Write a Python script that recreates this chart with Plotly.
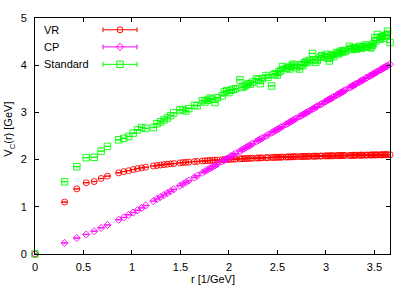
import plotly.graph_objects as go

# lattice distances r [1/GeV]
r = [0.0, 0.305, 0.431, 0.528, 0.610, 0.682, 0.747, 0.863, 0.915, 0.965,
     1.012, 1.057, 1.100, 1.141, 1.220, 1.258, 1.294, 1.330, 1.364, 1.398,
     1.431, 1.494, 1.525, 1.555, 1.585, 1.643, 1.671, 1.725, 1.752, 1.778,
     1.804, 1.830, 1.855, 1.880, 1.929, 1.953, 1.977, 2.000, 2.023, 2.046,
     2.069, 2.113, 2.135, 2.157, 2.178, 2.199, 2.220, 2.241, 2.282, 2.303,
     2.323, 2.343, 2.382, 2.402, 2.440, 2.459, 2.478, 2.497, 2.515, 2.534,
     2.552, 2.588, 2.606, 2.624, 2.641, 2.659, 2.676, 2.694, 2.728, 2.745,
     2.762, 2.779, 2.795, 2.812, 2.829, 2.861, 2.877, 2.894, 2.910, 2.941,
     2.957, 2.988, 3.004, 3.019, 3.035, 3.050, 3.065, 3.080, 3.110, 3.125,
     3.140, 3.155, 3.170, 3.184, 3.199, 3.242, 3.257, 3.271, 3.285, 3.299,
     3.313, 3.341, 3.355, 3.369, 3.383, 3.410, 3.424, 3.451, 3.464, 3.478,
     3.491, 3.504, 3.517, 3.531, 3.557, 3.570, 3.583, 3.596, 3.609, 3.622,
     3.635, 3.660]

vr = [0.0, 1.10, 1.38, 1.51, 1.535, 1.60, 1.65, 1.72, 1.745, 1.765,
      1.79, 1.81, 1.825, 1.839, 1.864, 1.875, 1.885, 1.894, 1.902, 1.910,
      1.917, 1.931, 1.936, 1.942, 1.947, 1.957, 1.962, 1.970, 1.974, 1.978,
      1.981, 1.985, 1.988, 1.991, 1.997, 2.000, 2.002, 2.005, 2.008, 2.010,
      2.012, 2.017, 2.019, 2.021, 2.023, 2.025, 2.027, 2.029, 2.032, 2.034,
      2.036, 2.037, 2.040, 2.042, 2.045, 2.046, 2.047, 2.049, 2.050, 2.051,
      2.053, 2.055, 2.056, 2.057, 2.058, 2.060, 2.061, 2.062, 2.064, 2.065,
      2.066, 2.067, 2.068, 2.069, 2.069, 2.071, 2.072, 2.073, 2.074, 2.075,
      2.076, 2.078, 2.079, 2.079, 2.080, 2.081, 2.081, 2.082, 2.084, 2.084,
      2.085, 2.086, 2.086, 2.087, 2.087, 2.089, 2.090, 2.090, 2.091, 2.092,
      2.092, 2.093, 2.094, 2.094, 2.095, 2.096, 2.096, 2.097, 2.098, 2.098,
      2.099, 2.099, 2.100, 2.100, 2.101, 2.102, 2.102, 2.103, 2.103, 2.104,
      2.104, 2.105]

cp = [0.0, 0.235, 0.338, 0.415, 0.483, 0.554, 0.616, 0.726, 0.774, 0.830,
      0.878, 0.927, 0.977, 1.027, 1.120, 1.165, 1.208, 1.250, 1.291, 1.331,
      1.371, 1.446, 1.483, 1.519, 1.554, 1.622, 1.656, 1.721, 1.753, 1.784,
      1.815, 1.845, 1.875, 1.905, 1.963, 1.991, 2.019, 2.047, 2.074, 2.102,
      2.129, 2.181, 2.207, 2.233, 2.259, 2.284, 2.309, 2.334, 2.383, 2.407,
      2.431, 2.454, 2.501, 2.524, 2.570, 2.592, 2.615, 2.637, 2.659, 2.681,
      2.703, 2.746, 2.767, 2.788, 2.809, 2.830, 2.851, 2.871, 2.912, 2.932,
      2.952, 2.972, 2.992, 3.012, 3.031, 3.070, 3.089, 3.109, 3.128, 3.165,
      3.184, 3.221, 3.240, 3.258, 3.276, 3.294, 3.313, 3.330, 3.366, 3.384,
      3.402, 3.419, 3.437, 3.454, 3.471, 3.523, 3.540, 3.557, 3.574, 3.590,
      3.607, 3.640, 3.657, 3.673, 3.690, 3.722, 3.738, 3.770, 3.786, 3.802,
      3.818, 3.834, 3.850, 3.865, 3.897, 3.912, 3.928, 3.943, 3.958, 3.974,
      3.989, 4.019]

std = [0.0, 1.53, 1.85, 2.04, 2.05, 2.18, 2.28, 2.42, 2.45, 2.49,
       2.56, 2.63, 2.68, 2.66, 2.68, 2.76, 2.80, 2.84, 2.88, 2.93,
       2.99, 3.05, 3.06, 3.03, 3.08, 3.15, 3.14, 3.25, 3.22, 3.26,
       3.30, 3.28, 3.21, 3.31, 3.35, 3.44, 3.46, 3.42, 3.47, 3.49,
       3.50, 3.69, 3.53, 3.55, 3.58, 3.61, 3.60, 3.64, 3.71, 3.69,
       3.61, 3.72, 3.78, 3.74, 3.56, 3.80, 3.82, 3.79, 3.86, 3.88,
       3.97, 3.93, 3.95, 3.92, 3.98, 4.02, 4.00, 3.95, 3.92, 4.01,
       3.99, 4.05, 4.08, 4.06, 4.10, 4.25, 4.12, 4.06, 4.10, 4.17,
       4.20, 4.18, 4.23, 4.15, 4.09, 4.20, 4.22, 4.18, 4.27, 4.24,
       4.26, 4.30, 4.28, 4.31, 4.29, 4.40, 4.35, 4.33, 4.37, 4.36,
       4.34, 4.40, 4.38, 4.36, 4.39, 4.43, 4.40, 4.38, 4.37, 4.42,
       4.46, 4.58, 4.52, 4.65, 4.55, 4.60, 4.61, 4.57, 4.63, 4.63,
       4.72, 4.48]

series_names = ["VR", "CP", "Standard"]
series_values = [vr, cp, std]
colors = ["#ff0000", "#ff00ff", "#00ff00"]
symbols = ["circle-open", "diamond-open", "square-open"]
sizes = [6, 5.5, 6.5]
x_ticks = [0, 0.5, 1, 1.5, 2, 2.5, 3, 3.5]
y_ticks = [0, 1, 2, 3, 4, 5]

FONT = "Liberation Sans, Arial, Helvetica, sans-serif"
W, H = 411, 288
L, R, T, B = 35, 21, 13, 34
pw, ph = W - L - R, H - T - B

def px(xp):
    return (xp - L) / pw

def py(yp):
    return (H - B - yp) / ph

fig = go.Figure()
for name, vals, c, s, sz in zip(series_names, series_values, colors, symbols, sizes):
    fig.add_trace(go.Scatter(
        x=r, y=vals, mode="markers", name=name, showlegend=False, cliponaxis=False,
        marker=dict(symbol=s, size=sz, color=c, line=dict(color=c, width=0.9)),
        error_y=dict(type="constant", value=0.004, color=c, thickness=0.9, width=3),
    ))

# custom gnuplot-like key
shapes = []
annotations = []
key_y = [25, 42.5, 60.3]
for name, c, s, sz, yk in zip(series_names, colors, symbols, sizes, key_y):
    yy = py(yk)
    x0, x1 = px(103), px(137)
    shapes.append(dict(type="line", xref="paper", yref="paper", x0=x0, x1=x1, y0=yy, y1=yy,
                       line=dict(color=c, width=1)))
    for xe in (x0, x1):
        shapes.append(dict(type="line", xref="paper", yref="paper", x0=xe, x1=xe,
                           y0=yy - 2.5 / ph, y1=yy + 2.5 / ph, line=dict(color=c, width=1)))
    fig.add_trace(go.Scatter(
        x=[px(120)], y=[yy], mode="markers", xaxis="x2", yaxis="y2", showlegend=False,
        marker=dict(symbol=s, size=sz, color=c, line=dict(color=c, width=1)),
        hoverinfo="skip"))
    annotations.append(dict(text=name, xref="paper", yref="paper", x=px(42), y=yy,
                            xanchor="left", yanchor="middle", showarrow=False,
                            font=dict(family=FONT, size=11, color="#000")))

annotations.append(dict(text="r [1/GeV]", xref="paper", yref="paper", x=0.5, y=py(280),
                        xanchor="center", yanchor="middle", showarrow=False,
                        font=dict(family=FONT, size=11, color="#000")))
annotations.append(dict(text="V<sub>C</sub>(r) [GeV]", xref="paper", yref="paper",
                        x=px(9), y=py(127), xanchor="center", yanchor="middle",
                        textangle=-90, showarrow=False,
                        font=dict(family=FONT, size=11, color="#000")))

axis_common = dict(showline=True, linecolor="#000", linewidth=1, mirror="ticks",
                   ticks="inside", ticklen=4, tickcolor="#000", tickwidth=1,
                   showgrid=False, zeroline=False,
                   tickfont=dict(family=FONT, size=11, color="#000"))

fig.update_layout(
    width=W, height=H,
    margin=dict(l=L, r=R, t=T, b=B, pad=0),
    paper_bgcolor="white", plot_bgcolor="white",
    xaxis=dict(range=[0, 3.66], tickvals=x_ticks, ticktext=[f"{v:g}" for v in x_ticks],
               ticklabelstandoff=3, **axis_common),
    yaxis=dict(range=[0, 5], tickvals=y_ticks, ticktext=[str(v) for v in y_ticks],
               ticklabelstandoff=5, **axis_common),
    xaxis2=dict(overlaying="x", range=[0, 1], visible=False),
    yaxis2=dict(overlaying="y", range=[0, 1], visible=False),
    shapes=shapes, annotations=annotations,
    showlegend=False,
)

fig.write_html("out.html", config={"displayModeBar": False},
               post_script="document.body.style.margin='0';")
